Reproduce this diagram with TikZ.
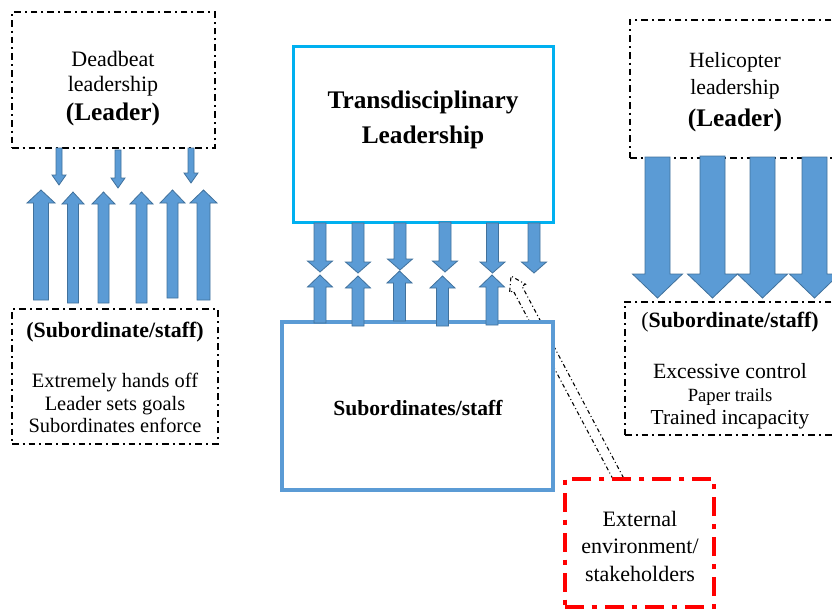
\documentclass[tikz,border=0pt]{standalone}
\usepackage{fontspec}
\setmainfont{Liberation Serif}
\definecolor{arrfill}{HTML}{5B9BD5}
\definecolor{arrline}{HTML}{41719C}
\definecolor{transblue}{HTML}{00B0F0}
\definecolor{subblue}{HTML}{5B9BD5}
\tikzset{
  dashbox/.style={draw=black, line width=1.5pt, dash pattern=on 5pt off 3pt on 1.5pt off 3pt, inner sep=0pt},
  redbox/.style={draw=red, line width=3.5pt, dash pattern=on 14pt off 6pt on 4pt off 6pt, inner sep=0pt},
  blockarr/.style={fill=arrfill, draw=arrline, line width=0.6pt, line join=miter},
  linkarr/.style={draw=black, line width=0.8pt, dash pattern=on 3pt off 2pt on 0.8pt off 2pt},
  txt/.style={align=center, inner sep=0pt, text=black},
}
% x, tail y, head-base y, tip y, shaft half width, head half width
\newcommand{\barrow}[6]{%
  \draw[blockarr] ({#1-#5},#2) -- ({#1-#5},#3) -- ({#1-#6},#3) -- (#1,#4) -- ({#1+#6},#3) -- ({#1+#5},#3) -- ({#1+#5},#2) -- cycle;}
\begin{document}
\begin{tikzpicture}[x=0.75pt,y=-0.75pt]
\useasboundingbox (0,0) rectangle (832,612);

% connector from external environment (hollow block arrow)
\coordinate (exttip) at (511,276);
\draw[linkarr] (623.6,478) -- (522.0,286.1) -- (525.5,284.2) -- (exttip) -- (509.6,292.6) -- (513.2,290.7) -- (612.4,478);

% central boxes
\node[draw=transblue, line width=2.25pt, fill=white, minimum width=195pt, minimum height=132pt, inner sep=0pt] (trans) at (423,134) {};
\node[draw=subblue, line width=3pt, fill=white, minimum width=203.25pt, minimum height=126pt, inner sep=0pt] (sub) at (417.5,406) {};

% dash-dot boxes
\node[dashbox, minimum width=152.25pt, minimum height=102pt] (dead) at (113.5,80) {};
\node[dashbox, minimum width=154.5pt, minimum height=101.25pt] (deadsub) at (115,376.5) {};
\node[dashbox, minimum width=161.25pt, minimum height=103.5pt] (heli) at (737.5,89) {};
\node[dashbox, minimum width=165pt, minimum height=99.75pt] (helisub) at (735,368.5) {};
\node[redbox, minimum width=111.75pt, minimum height=96pt] (ext) at (639.5,543) {};

% left small down arrows
\barrow{59}{148}{175}{185}{3}{7}
\barrow{118}{150}{178}{188}{3}{7}
\barrow{191}{148}{173}{183}{3}{7}
% left up arrows
\barrow{41}{300}{203}{190}{7.5}{14}
\barrow{73}{303}{204}{192}{5.5}{11}
\barrow{103.5}{303}{204}{192}{5.5}{11.5}
\barrow{141.5}{303}{204}{192}{5.5}{11.5}
\barrow{172.5}{298}{203}{190}{5.5}{12.5}
\barrow{203.5}{300}{203}{190}{6.5}{13.5}

% centre down arrows
\barrow{320}{223}{261}{272}{6}{12.5}
\barrow{358}{223}{262}{273}{6}{12.5}
\barrow{400}{223}{259}{270}{6}{12.5}
\barrow{445}{222}{261}{272}{6}{12.5}
\barrow{492.5}{223}{262}{273}{6}{12.5}
\barrow{534}{223}{262}{273}{6}{12.5}
% centre up arrows
\barrow{320}{323}{287}{275}{6}{12.5}
\barrow{358}{326}{288}{276}{6}{12.5}
\barrow{399.5}{321}{283}{271}{6}{12.5}
\barrow{442.5}{326}{288}{276}{6}{12.5}
\barrow{492}{325}{287}{275}{6}{12.5}

% helicopter arrows
\barrow{657.5}{157}{274}{298}{12.5}{25}
\barrow{712.5}{156}{274}{298}{12.5}{25}
\barrow{762.5}{157}{274}{298}{12.5}{25}
\barrow{814.5}{157}{274}{298}{12.5}{25}

% texts
\node[txt, font=\fontsize{16.5}{19}\selectfont] (deadtxt) at (113,88.5)
  {Deadbeat\\leadership\\[3pt]{\fontsize{19}{19}\selectfont\bfseries (Leader)}};
\node[txt, font=\fontsize{16.4}{19}\selectfont\bfseries] (deadsubt) at (115,332) {(Subordinate/staff)};
\node[txt, font=\fontsize{15.3}{17}\selectfont] (deadsubb) at (115,403)
  {Extremely hands off\\Leader sets goals\\Subordinates enforce};

\node[txt, font=\fontsize{19}{26}\selectfont\bfseries] (transtxt) at (423,120) {Transdisciplinary\\Leadership};
\node[txt, font=\fontsize{16.2}{18}\selectfont\bfseries] (subtxt) at (418,408) {Subordinates/staff};

\node[txt, font=\fontsize{16.3}{20}\selectfont] (helitxt) at (735,92)
  {Helicopter\\leadership\\[4pt]{\fontsize{19}{19}\selectfont\bfseries (Leader)}};
\node[txt, font=\fontsize{16.4}{19}\selectfont\bfseries] (helisubt) at (730,322) {{\mdseries(}Subordinate/staff)};
\node[txt, font=\fontsize{16}{17.25}\selectfont] (helisubb) at (730,396)
  {{\fontsize{16.3}{17.25}\selectfont Excessive control}\\{\fontsize{14}{17.25}\selectfont Paper trails}\\{\fontsize{16}{17.25}\selectfont Trained incapacity}};

\node[txt, font=\fontsize{16.5}{20.6}\selectfont] (exttxt) at (640,546)
  {External\\environment/\\stakeholders};
\end{tikzpicture}
\end{document}
